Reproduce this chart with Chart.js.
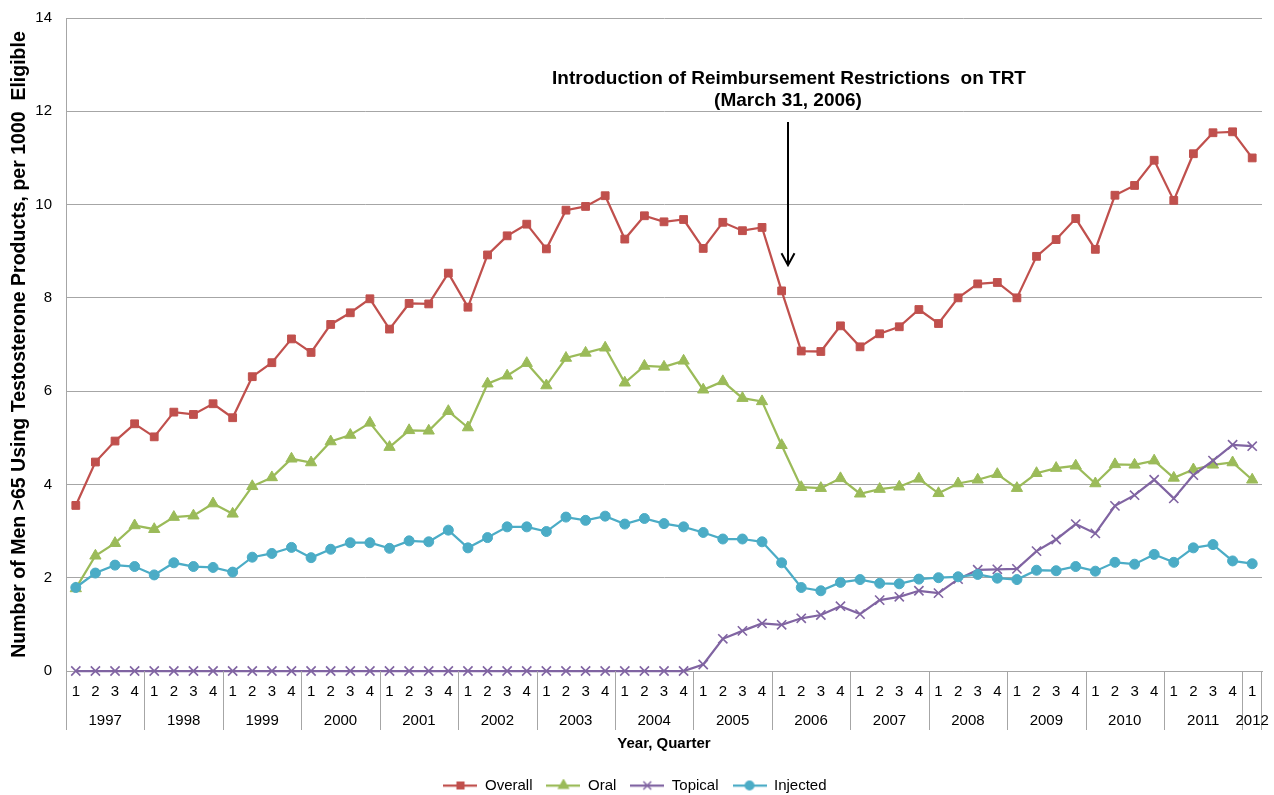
<!DOCTYPE html>
<html>
<head>
<meta charset="utf-8">
<script src="https://cdn.jsdelivr.net/npm/chart.js@4.4.1/dist/chart.umd.min.js"></script>
<style>
  html, body { margin: 0; padding: 0; background: #fff; }
  #wrap { width: 1274px; height: 795px; position: relative; }
</style>
</head>
<body>
<div id="wrap"><canvas id="trtChart"></canvas></div>
<script>
// Years shown on the second row of the x axis
var yearLabels = ['1997', '1998', '1999', '2000', '2001', '2002', '2003', '2004',
                  '2005', '2006', '2007', '2008', '2009', '2010', '2011', '2012'];

// Quarter ticks (first row of the x axis)
var quarterLabels = [
  '1','2','3','4', '1','2','3','4', '1','2','3','4', '1','2','3','4',
  '1','2','3','4', '1','2','3','4', '1','2','3','4', '1','2','3','4',
  '1','2','3','4', '1','2','3','4', '1','2','3','4', '1','2','3','4',
  '1','2','3','4', '1','2','3','4', '1','2','3','4', '1'
];

// Men >65 using testosterone products, per 1000 eligible
var overallValues = [
  3.55, 4.48, 4.93, 5.30,  5.02, 5.55, 5.50, 5.73,  5.43, 6.31, 6.61, 7.12,
  6.83, 7.43, 7.68, 7.98,  7.33, 7.88, 7.87, 8.53,  7.80, 8.92, 9.33, 9.58,
  9.05, 9.88, 9.96, 10.19, 9.26, 9.76, 9.63, 9.68,  9.06, 9.62, 9.44, 9.51,
  8.15, 6.86, 6.85, 7.40,  6.95, 7.23, 7.38, 7.75,  7.45, 8.00, 8.30, 8.33,
  8.00, 8.89, 9.25, 9.70,  9.04, 10.20, 10.41, 10.95, 10.09, 11.09, 11.54, 11.56,
  11.00
];
var oralValues = [
  1.77, 2.47, 2.74, 3.12,  3.04, 3.30, 3.33, 3.59,  3.37, 3.96, 4.15, 4.55,
  4.47, 4.92, 5.06, 5.32,  4.80, 5.16, 5.15, 5.57,  5.22, 6.16, 6.33, 6.60,
  6.12, 6.71, 6.82, 6.93,  6.18, 6.54, 6.52, 6.65,  6.03, 6.21, 5.85, 5.78,
  4.84, 3.94, 3.92, 4.13,  3.80, 3.90, 3.95, 4.12,  3.81, 4.02, 4.10, 4.22,
  3.92, 4.24, 4.35, 4.40,  4.02, 4.43, 4.42, 4.51,  4.14, 4.32, 4.42, 4.47,
  4.10
];
var topicalValues = [
  0, 0, 0, 0,  0, 0, 0, 0,  0, 0, 0, 0,  0, 0, 0, 0,
  0, 0, 0, 0,  0, 0, 0, 0,  0, 0, 0, 0,  0, 0, 0, 0,
  0.14, 0.69, 0.86, 1.02,  0.99, 1.13, 1.20, 1.39,  1.22, 1.52, 1.59, 1.72,
  1.67, 1.97, 2.17, 2.18,  2.19, 2.57, 2.82, 3.15,  2.95, 3.54, 3.77, 4.10,
  3.70, 4.20, 4.51, 4.85,  4.82
];
var injectedValues = [
  1.79, 2.10, 2.27, 2.24,  2.06, 2.32, 2.24, 2.22,  2.12, 2.44, 2.52, 2.65,
  2.43, 2.61, 2.75, 2.75,  2.63, 2.79, 2.77, 3.02,  2.64, 2.86, 3.09, 3.09,
  2.99, 3.30, 3.23, 3.32,  3.15, 3.27, 3.16, 3.09,  2.97, 2.83, 2.83, 2.77,
  2.32, 1.79, 1.72, 1.90,  1.96, 1.88, 1.87, 1.97,  2.00, 2.02, 2.07, 1.99,
  1.96, 2.16, 2.15, 2.24,  2.14, 2.33, 2.29, 2.50,  2.33, 2.64, 2.71, 2.36,
  2.30
];

var FONT = '"Liberation Sans", Arial, Helvetica, sans-serif';
var GRID = '#a6a6a6';
var PLOT_BOTTOM = 671;
var PAD_BOTTOM = -8;
var PAD_LEFT = 8;

Chart.defaults.font.family = FONT;
Chart.defaults.color = '#000';

// small line + marker picture for each legend entry
function legendSwatch(color, style, radius) {
  var c = document.createElement('canvas');
  c.width = 34; c.height = 14;
  var g = c.getContext('2d');
  g.strokeStyle = color; g.fillStyle = color; g.lineWidth = 2.25;
  g.beginPath(); g.moveTo(0, 7); g.lineTo(34, 7); g.stroke();
  g.lineWidth = 1.5;
  Chart.helpers.drawPoint(g, { pointStyle: style, radius: radius, rotation: 0, borderWidth: 1.5 }, 17, 7);
  return c;
}

function makeSeries(label, values, color, style, radius, order) {
  return {
    label: label,
    data: values,
    borderColor: color,
    backgroundColor: color,
    pointBackgroundColor: color,
    pointBorderColor: color,
    borderWidth: 2.25,
    pointStyle: style,
    pointRadius: radius,
    pointHoverRadius: radius,
    pointBorderWidth: style === 'crossRot' ? 1.6 : 1,
    tension: 0,
    clip: false,
    order: order,
    swatch: legendSwatch(color, style, radius * 0.85)
  };
}

// second row of the category axis: year names and separators
var yearAxisPlugin = {
  id: 'yearAxis',
  afterDraw: function (chart) {
    var x = chart.scales.x, area = chart.chartArea, ctx = chart.ctx;
    var starts = [];
    quarterLabels.forEach(function (q, i) { if (q === '1') starts.push(i); });
    var half = (x.getPixelForValue(1) - x.getPixelForValue(0)) / 2;
    ctx.save();
    ctx.strokeStyle = GRID;
    ctx.lineWidth = 1;
    ctx.beginPath();
    starts.forEach(function (s) {
      var px = Math.round(x.getPixelForValue(s) - half) + 0.5;
      ctx.moveTo(px, area.bottom); ctx.lineTo(px, area.bottom + 59);
    });
    var rx = Math.round(x.getPixelForValue(quarterLabels.length - 1) + half) - 0.5;
    ctx.moveTo(rx, area.bottom); ctx.lineTo(rx, area.bottom + 59);
    ctx.stroke();
    ctx.fillStyle = '#000';
    ctx.font = '15px ' + FONT;
    ctx.textAlign = 'center';
    ctx.textBaseline = 'middle';
    starts.forEach(function (s, k) {
      var e = (k + 1 < starts.length ? starts[k + 1] : quarterLabels.length) - 1;
      var cx = (x.getPixelForValue(s) + x.getPixelForValue(e)) / 2;
      ctx.fillText(yearLabels[k], cx, area.bottom + 50);
    });
    ctx.restore();
  }
};

// note and arrow marking March 31, 2006
var noteText = ['Introduction of Reimbursement Restrictions  on TRT', '(March 31, 2006)'];
var notePlugin = {
  id: 'note',
  afterDatasetsDraw: function (chart) {
    var x = chart.scales.x, y = chart.scales.y, ctx = chart.ctx;
    var ax = Math.round(x.getPixelForValue(36.3));
    var top = y.getPixelForValue(11.77), tip = y.getPixelForValue(8.70);
    ctx.save();
    ctx.strokeStyle = '#000';
    ctx.lineWidth = 2;
    ctx.beginPath();
    ctx.moveTo(ax, top); ctx.lineTo(ax, tip);
    ctx.moveTo(ax - 6.5, tip - 12); ctx.lineTo(ax, tip); ctx.lineTo(ax + 6.5, tip - 12);
    ctx.stroke();
    ctx.fillStyle = '#000';
    ctx.font = 'bold 19px ' + FONT;
    ctx.textAlign = 'center';
    ctx.textBaseline = 'middle';
    ctx.fillText(noteText[0], ax + 1, top - 43);
    ctx.fillText(noteText[1], ax, top - 21);
    ctx.restore();
  }
};

var ctx = document.getElementById('trtChart');
new Chart(ctx, {
  type: 'line',
  data: {
    labels: quarterLabels,
    datasets: [
      makeSeries('Overall', overallValues, '#C0504D', 'rect', 5.5, 4),
      makeSeries('Oral', oralValues, '#9BBB59', 'triangle', 6.5, 3),
      makeSeries('Topical', topicalValues, '#8064A2', 'crossRot', 6.5, 2),
      makeSeries('Injected', injectedValues, '#4BACC6', 'circle', 5, 1)
    ]
  },
  options: {
    responsive: true,
    maintainAspectRatio: false,
    animation: false,
    layout: { padding: { top: 18, right: 12, left: PAD_LEFT, bottom: PAD_BOTTOM } },
    scales: {
      x: {
        offset: true,
        grid: { display: false, drawTicks: false },
        border: { display: true, color: GRID, width: 1 },
        ticks: { autoSkip: false, maxRotation: 0, padding: 12, font: { size: 15 }, color: '#000' },
        title: { display: true, text: 'Year, Quarter', font: { size: 15, weight: 'bold' }, padding: { top: 0, bottom: 0 } },
        afterFit: function (scale) {
          var legendH = scale.chart.legend ? scale.chart.legend.height : 0;
          scale.height = scale.chart.height - PAD_BOTTOM - PLOT_BOTTOM - legendH;
          scale.options.title.padding = { top: 0, bottom: scale.height - 73 - 9 };
        }
      },
      y: {
        min: 0,
        max: 14,
        // small lineHeight keeps the plot top at the layout padding
        ticks: { stepSize: 2, padding: 14, font: { size: 15, lineHeight: 0.5 }, color: '#000' },
        grid: { color: GRID, lineWidth: 1, drawTicks: false },
        border: { display: true, color: GRID, width: 1 },
        title: {
          display: true,
          text: 'Number of Men >65 Using Testosterone Products, per 1000  Eligible',
          font: { size: 19.5, weight: 'bold' },
          padding: { top: 0.3, bottom: 0 }
        },
        afterFit: function (scale) { scale.width = 66 - PAD_LEFT; }
      }
    },
    plugins: {
      tooltip: { enabled: false },
      legend: {
        position: 'bottom',
        labels: {
          usePointStyle: true,
          pointStyleWidth: 34,
          padding: 14,
          font: { size: 15 },
          color: '#000',
          sort: function (a, b) { return a.datasetIndex - b.datasetIndex; },
          generateLabels: function (chart) {
            return chart.data.datasets.map(function (ds, i) {
              return {
                text: ds.label,
                pointStyle: ds.swatch,
                fillStyle: ds.borderColor,
                strokeStyle: ds.borderColor,
                lineWidth: 0,
                hidden: false,
                datasetIndex: i,
                fontColor: '#000'
              };
            });
          }
        }
      }
    }
  },
  plugins: [yearAxisPlugin, notePlugin]
});
</script>
</body>
</html>
